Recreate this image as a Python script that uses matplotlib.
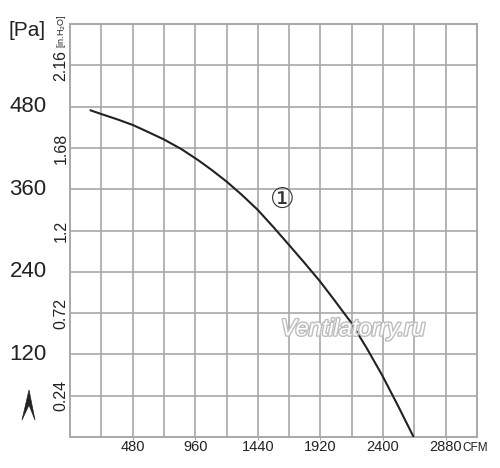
import matplotlib
matplotlib.use("Agg")
import matplotlib.pyplot as plt
import matplotlib.patheffects as pe
import matplotlib.transforms as mtrans
from matplotlib.patches import Polygon

# ---- data ----
cfm = [151, 243, 370, 485, 600, 723, 856, 984, 1086, 1201, 1316, 1439, 1559, 1679,
       1802, 1917, 2018, 2156, 2275, 2395, 2518, 2634]
pa = [475, 469, 461, 453, 443, 432, 418, 402, 388, 371, 352, 330, 305, 279,
      252, 226, 201, 166, 129, 89, 44, 0]
x_ticks = [480, 960, 1440, 1920, 2400, 2880]
pa_ticks = [120, 240, 360, 480]
inh2o_ticks = [0.24, 0.72, 1.2, 1.68, 2.16]
inh2o_labels = ["0.24", "0.72", "1.2", "1.68", "2.16"]
PA_PER_INH2O = 250.0

FONT = ['Liberation Sans Narrow', 'Liberation Sans', 'DejaVu Sans']
plt.rcParams['font.family'] = FONT

fig = plt.figure(figsize=(5.0, 4.68), dpi=100)
W, H = 500, 468
ax = fig.add_axes([70 / W, 1 - 437 / H, (477 - 70) / W, (437 - 24) / H])
ax.set_xlim(0, 3120)
ax.set_ylim(0, 600)

gc = '#a8a8a8'
for v in range(240, 3120, 240):
    ax.axvline(v, color=gc, lw=1.2, zorder=1)
for v in range(60, 600, 60):
    ax.axhline(v, color=gc, lw=1.2, zorder=1)
for s in ax.spines.values():
    s.set_color(gc)
    s.set_linewidth(1.4)

ax.set_xticks(x_ticks)
ax.set_xticklabels([str(t) for t in x_ticks], fontsize=10.5, color='#222222')
ax.tick_params(axis='x', length=2, color=gc, pad=0.5)
ax.set_yticks([])

ax.plot(cfm, pa, color='#222222', lw=1.5, zorder=3, solid_capstyle='butt',
        solid_joinstyle='round')

# left-side labels
tr = fig.transFigure
blend = mtrans.blended_transform_factory(tr, ax.transData)
for t in pa_ticks:
    ax.text(28 / W, t, str(t), transform=blend, ha='center', va='center',
            fontsize=16, color='#222222')
for t, lab in zip(inh2o_ticks, inh2o_labels):
    ax.text(61 / W, t * PA_PER_INH2O, lab, transform=blend, ha='center', va='center',
            fontsize=11.5, rotation=90, color='#222222')

fig.text(27 / W, 1 - 30 / H, "[Pa]", ha='center', va='center', fontsize=15, color='#222222')
fig.text(61 / W, 1 - 31 / H, "[in.H$_2$O]", ha='center', va='center', fontsize=6.5,
         rotation=90, color='#222222')
fig.text(462 / W, 1 - 448 / H, "CFM", ha='left', va='center', fontsize=8.5, color='#222222')

# arrow glyph
arrow = Polygon([[29 / W, 1 - 390 / H], [22 / W, 1 - 420 / H], [29 / W, 1 - 405 / H],
                 [35 / W, 1 - 420 / H]], closed=True, transform=tr,
                facecolor='#222222', edgecolor='#222222', lw=0.5)
fig.patches.append(arrow)

# curve label
ax.text(1626, 344, "\u2460", ha='center', va='center', fontsize=20,
        family=['DejaVu Serif', 'DejaVu Sans'], color='#333333', zorder=4)

# watermark
wm = ax.text(2170, 157, "Ventilatorry.ru", ha='center', va='center', fontsize=17,
             style='italic', color='white', family=['Liberation Sans', 'DejaVu Sans'], zorder=5)
wm.set_path_effects([pe.Stroke(linewidth=2.0, foreground='#bdbdbd'), pe.Normal()])

fig.savefig("out.png", dpi=100)
